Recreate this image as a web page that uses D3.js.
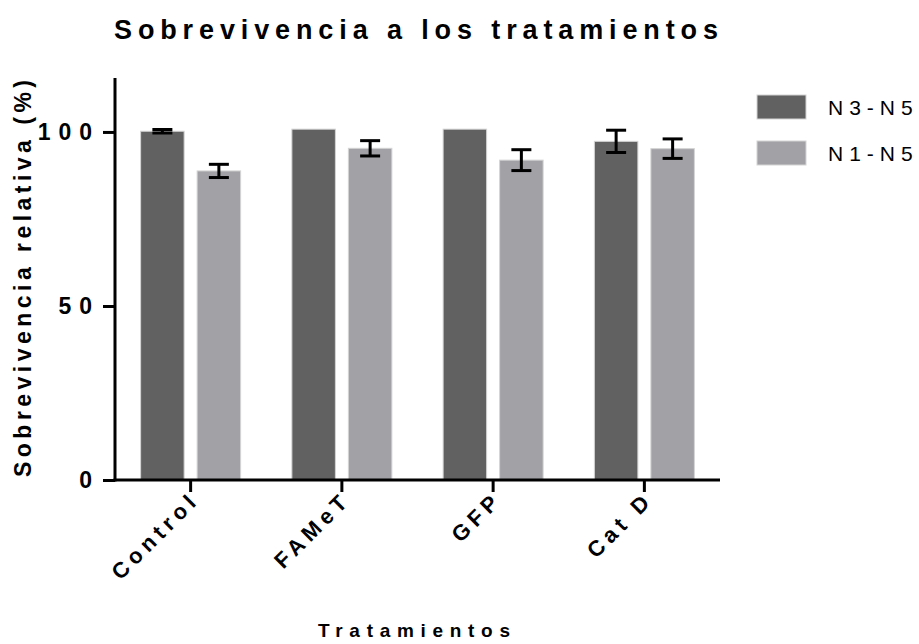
<!DOCTYPE html>
<html><head><meta charset="utf-8">
<script src="https://cdn.jsdelivr.net/npm/d3@7"></script>
<style>body{margin:0;background:#fff}svg{display:block}</style>
</head><body><div id="chart"></div>
<script>
const categories = ["Control", "FAMeT", "GFP", "Cat D"];
const seriesNames = ["N3-N5", "N1-N5"];
const n3n5Values = [100.2, 100.8, 100.8, 97.3];
const n3n5Errors = [0.5, 0, 0, 3.2];
const n1n5Values = [88.8, 95.3, 91.9, 95.2];
const n1n5Errors = [1.9, 2.2, 3.0, 2.8];
const yTicks = [0, 50, 100];
const colors = ["#616161", "#a2a1a6"];
const titleText = "Sobrevivencia a los tratamientos";
const yLabel = "Sobrevivencia relativa (%)";
const xLabel = "Tratamientos";

(function () {
const W = 919, H = 644;
const FONT = "'Liberation Sans', Arial, sans-serif";
const svg = d3.select("#chart").append("svg").attr("width", W).attr("height", H);

const pL = 115, pR = 720, pT = 78, pB = 480;
const x0 = d3.scaleBand().domain(categories).range([pL, pR]).padding(0);
const x1 = d3.scaleBand().domain(seriesNames).range([0, 100]).paddingInner(0.23).paddingOuter(0);
const y = d3.scaleLinear().domain([0, 115.5]).range([pB, pT]);

const rows = categories.map((c, i) => ({
  cat: c,
  vals: [
    {s: seriesNames[0], v: n3n5Values[i], e: n3n5Errors[i]},
    {s: seriesNames[1], v: n1n5Values[i], e: n1n5Errors[i]}
  ]
}));
const groupOffset = (x0.bandwidth() - 100) / 2;

const g = svg.selectAll("g.grp").data(rows).enter().append("g")
  .attr("transform", d => `translate(${x0(d.cat) + groupOffset},0)`);
g.selectAll("rect").data(d => d.vals).enter().append("rect")
  .attr("x", d => x1(d.s))
  .attr("width", x1.bandwidth())
  .attr("y", d => y(d.v))
  .attr("height", d => pB - y(d.v))
  .attr("fill", (d, i) => colors[i])
  .attr("stroke", "#d4d4d4").attr("stroke-width", 1);

const eb = g.selectAll("g.eb").data(d => d.vals.filter(v => v.e > 0)).enter().append("g")
  .attr("stroke", "#000").attr("stroke-width", 3);
const cx = d => x1(d.s) + x1.bandwidth() / 2;
eb.append("line").attr("x1", cx).attr("x2", cx)
  .attr("y1", d => y(d.v + d.e)).attr("y2", d => y(d.v - d.e));
eb.append("line").attr("x1", d => cx(d) - 10).attr("x2", d => cx(d) + 10)
  .attr("y1", d => y(d.v + d.e)).attr("y2", d => y(d.v + d.e));
eb.append("line").attr("x1", d => cx(d) - 10).attr("x2", d => cx(d) + 10)
  .attr("y1", d => y(d.v - d.e)).attr("y2", d => y(d.v - d.e));

const yAxis = d3.axisLeft(y).tickValues(yTicks).tickSize(12).tickPadding(6);
const ya = svg.append("g").attr("transform", `translate(${pL},0)`).call(yAxis);
ya.select(".domain").attr("d", `M0,${pT}V${pB + 1.5}`).attr("stroke-width", 3);
ya.selectAll(".tick line").attr("stroke-width", 3);
ya.selectAll(".tick text").attr("font-family", FONT).attr("font-weight", "bold")
  .attr("font-size", 23).attr("letter-spacing", "8px").attr("fill", "#000").attr("x", -15);

const xAxis = d3.axisBottom(x0).tickSize(12).tickFormat("");
const xa = svg.append("g").attr("transform", `translate(0,${pB})`).call(xAxis);
xa.select(".domain").attr("d", `M${pL - 1.5},0H${pR}`).attr("stroke-width", 3);
xa.selectAll(".tick line").attr("stroke-width", 3);

svg.append("g").selectAll("text").data(categories).enter().append("text")
  .attr("transform", d => `translate(${x0(d) + x0.bandwidth() / 2 + 10},${pB + 21}) rotate(-45)`)
  .attr("text-anchor", "end")
  .attr("font-family", FONT).attr("font-weight", "bold").attr("font-size", 22)
  .attr("letter-spacing", "5px")
  .text(d => d);

svg.append("text").attr("x", 114).attr("y", 39)
  .attr("font-family", FONT).attr("font-weight", "bold").attr("font-size", 27)
  .attr("textLength", 604).attr("lengthAdjust", "spacing").text(titleText);

svg.append("text").attr("transform", `translate(31,${(80 + 477) / 2}) rotate(-90)`)
  .attr("text-anchor", "middle")
  .attr("font-family", FONT).attr("font-weight", "bold").attr("font-size", 23)
  .attr("textLength", 397).attr("lengthAdjust", "spacing").text(yLabel);

svg.append("text").attr("x", 318).attr("y", 637)
  .attr("font-family", FONT).attr("font-weight", "bold").attr("font-size", 19)
  .attr("textLength", 192).attr("lengthAdjust", "spacing").text(xLabel);

const leg = svg.append("g").selectAll("g").data(seriesNames).enter().append("g")
  .attr("transform", (d, i) => `translate(757,${95 + i * 46})`);
leg.append("rect").attr("width", 49).attr("height", 24).attr("fill", (d, i) => colors[i])
  .attr("stroke", "#d4d4d4").attr("stroke-width", 1);
leg.append("text").attr("x", 71).attr("y", 20)
  .attr("font-family", FONT).attr("font-size", 21).attr("letter-spacing", "6px")
  .text(d => d);
})();
</script></body></html>
